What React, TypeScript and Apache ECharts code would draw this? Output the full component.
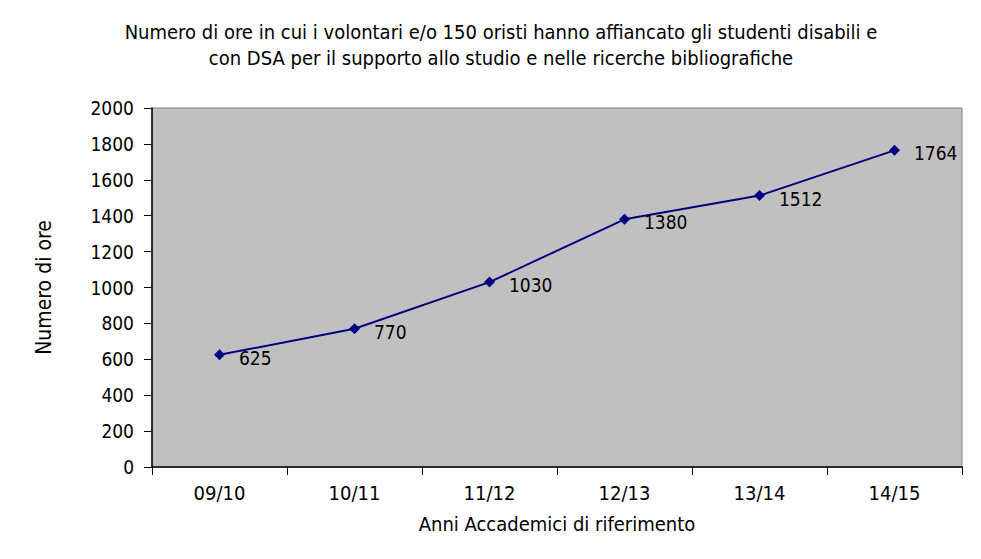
import React, { useEffect, useRef } from "react";
import * as echarts from "echarts";

const titleLines = [
  "Numero di ore in cui i volontari e/o 150 oristi hanno affiancato gli studenti disabili e",
  "con DSA per il supporto allo studio e nelle ricerche bibliografiche",
];
const categories = ["09/10", "10/11", "11/12", "12/13", "13/14", "14/15"];
const hours = [625, 770, 1030, 1380, 1512, 1764];
const yAxisName = "Numero di ore";
const xAxisName = "Anni Accademici di riferimento";

const FONT = "Tahoma, 'DejaVu Sans Condensed', 'Liberation Sans', sans-serif";

export default function App() {
  const ref = useRef<HTMLDivElement>(null);
  useEffect(() => {
    if (!ref.current) return;
    const chart = echarts.init(ref.current, null, { renderer: "svg" });
    chart.setOption({
      animation: false,
      backgroundColor: "#ffffff",
      textStyle: { fontFamily: FONT },
      title: {
        text: titleLines.join("\n"),
        left: 496,
        top: 14,
        textAlign: "center",
        textStyle: {
          fontFamily: FONT,
          fontSize: 20,
          fontWeight: "normal",
          color: "#000",
          lineHeight: 26,
        },
      },
      grid: {
        left: 152,
        right: 19,
        top: 108,
        bottom: 92,
        show: true,
        backgroundColor: "#C0C0C0",
        borderColor: "#808080",
        borderWidth: 1,
      },
      xAxis: {
        type: "category",
        data: categories,
        boundaryGap: true,
        name: xAxisName,
        nameLocation: "middle",
        nameGap: 47,
        nameTextStyle: { fontFamily: FONT, fontSize: 20, color: "#000" },
        axisLine: { lineStyle: { color: "#000", width: 1.5 } },
        axisTick: { show: true, length: 8, inside: false, lineStyle: { color: "#000" } },
        axisLabel: { fontFamily: FONT, fontSize: 20, color: "#000", margin: 16 },
        splitLine: { show: false },
      },
      yAxis: {
        type: "value",
        min: 0,
        max: 2000,
        interval: 200,
        name: yAxisName,
        nameLocation: "middle",
        nameGap: 98,
        nameRotate: 90,
        nameTextStyle: { fontFamily: FONT, fontSize: 21, color: "#000" },
        axisLine: { show: true, lineStyle: { color: "#000", width: 1.5 } },
        axisTick: { show: true, length: 8, inside: false, lineStyle: { color: "#000" } },
        axisLabel: {
          fontFamily: FONT,
          fontSize: 19,
          color: "#000",
          margin: 18,
          formatter: (v: number) => String(v),
        },
        splitLine: { show: false },
      },
      series: [
        {
          type: "line",
          data: hours,
          symbol: "diamond",
          symbolSize: 11,
          itemStyle: { color: "#000080" },
          lineStyle: { color: "#000080", width: 2 },
          label: {
            show: true,
            position: "right",
            distance: 14,
            offset: [0, 3],
            fontFamily: FONT,
            fontSize: 19,
            color: "#000",
          },
        },
      ],
    });
    return () => chart.dispose();
  }, []);
  return (
    <div
      ref={ref}
      style={{ position: "fixed", left: 0, top: 0, width: 981, height: 559 }}
    />
  );
}
